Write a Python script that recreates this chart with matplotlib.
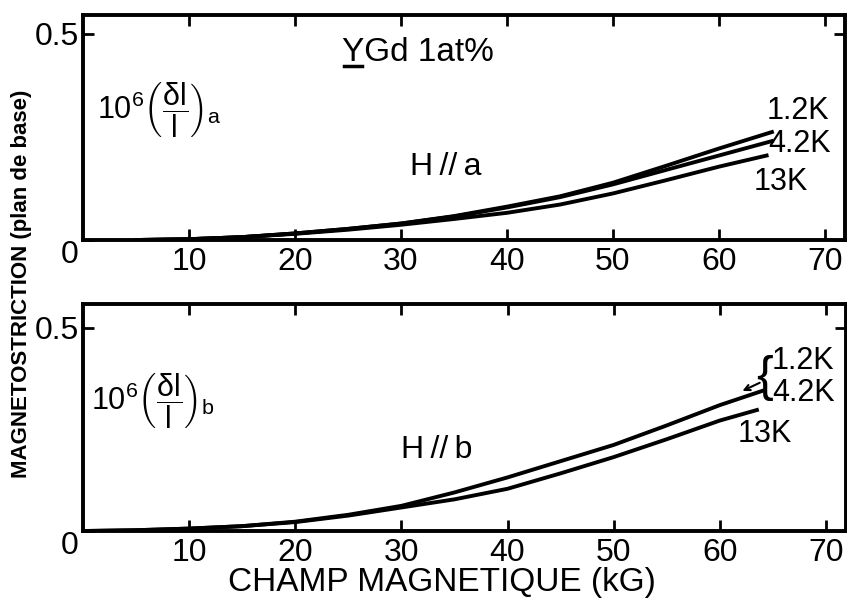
import numpy as np
import matplotlib
matplotlib.use("Agg")
from matplotlib import pyplot as plt

plt.rcParams['font.family'] = ['Liberation Sans', 'DejaVu Sans']
plt.rcParams['mathtext.fontset'] = 'custom'
plt.rcParams['mathtext.rm'] = 'Liberation Sans'
plt.rcParams['mathtext.it'] = 'Liberation Sans'
plt.rcParams['mathtext.default'] = 'regular'

# field (kG) and magnetostriction 10^6 dl/l, basal plane, YGd 1 at%
field_a = [5, 10, 15, 20, 25, 30, 35, 40, 45, 50, 55, 60, 65]
a_1p2K = [0, 0.002, 0.007, 0.016, 0.027, 0.040, 0.058, 0.081, 0.106, 0.139, 0.180, 0.222, 0.262]
a_4p2K = [0, 0.002, 0.007, 0.016, 0.027, 0.040, 0.057, 0.079, 0.104, 0.135, 0.170, 0.205, 0.240]
field_a13 = [5, 10, 15, 20, 25, 30, 35, 40, 45, 50, 55, 60, 64.5]
a_13K = [0, 0.002, 0.007, 0.015, 0.025, 0.037, 0.051, 0.066, 0.086, 0.113, 0.145, 0.178, 0.205]

field_b = [0, 5, 10, 15, 20, 25, 30, 35, 40, 45, 50, 55, 60, 64]
b_low = [0, 0.002, 0.006, 0.012, 0.023, 0.040, 0.062, 0.095, 0.132, 0.172, 0.212, 0.260, 0.310, 0.345]   # 1.2 K and 4.2 K
field_b13 = [0, 5, 10, 15, 20, 25, 30, 35, 40, 45, 50, 55, 60, 63.5]
b_13K = [0, 0.002, 0.006, 0.012, 0.022, 0.038, 0.058, 0.078, 0.104, 0.142, 0.182, 0.226, 0.272, 0.298]

xticks = [10, 20, 30, 40, 50, 60, 70]
yticks = [0, 0.5]

fig = plt.figure(figsize=(8.47, 6.02), dpi=100)
ax1 = fig.add_axes([0.098, 0.6013, 0.8997, 0.3738])
ax2 = fig.add_axes([0.098, 0.1179, 0.9009, 0.3771])

lw = 2.8
ax1.plot(field_a, a_1p2K, color='black', lw=lw)
ax1.plot(field_a, a_4p2K, color='black', lw=lw)
ax1.plot(field_a13, a_13K, color='black', lw=lw)
ax2.plot(field_b, b_low, color='black', lw=lw)
ax2.plot(field_b13, b_13K, color='black', lw=lw)

for ax, ytop in [(ax1, 0.546), (ax2, 0.559)]:
    ax.set_xlim(0, 71.9)
    ax.set_ylim(0, ytop)
    ax.set_xticks(xticks)
    ax.set_yticks(yticks)
    ax.set_yticklabels(['0', '0.5'])
    ax.tick_params(direction='in', length=8, width=2, labelsize=23,
                   top=True, right=True, pad=5)
    ax.tick_params(axis='y', pad=3)
    ax.yaxis.get_majorticklabels()[0].set_va('top')
    for s in ax.spines.values():
        s.set_linewidth(2.8)

# panel a annotations
title = ax1.text(31.6, 0.456, 'YGd 1at%', fontsize=24, ha='center', va='center')
ax1.text(34.2, 0.177, 'H\u2009//\u2009a', fontsize=23, ha='center', va='center')
ax1.text(1.3, 0.315, r'$10^{6}\left(\dfrac{\delta l}{l}\right)_{a}$', fontsize=22,
         ha='left', va='center')
ax1.text(64.5, 0.312, '1.2K', fontsize=22, ha='left', va='center')
ax1.text(64.7, 0.234, '4.2K', fontsize=22, ha='left', va='center')
ax1.text(63.3, 0.141, '13K', fontsize=22, ha='left', va='center')

# panel b annotations
ax2.text(33.3, 0.20, 'H\u2009//\u2009b', fontsize=23, ha='center', va='center')
ax2.text(0.8, 0.32, r'$10^{6}\left(\dfrac{\delta l}{l}\right)_{b}$', fontsize=22,
         ha='left', va='center')
ax2.text(65.0, 0.378, '{', fontsize=36, ha='right', va='center')
ax2.text(64.9, 0.419, '1.2K', fontsize=22, ha='left', va='center')
ax2.text(64.9, 0.340, '4.2K', fontsize=22, ha='left', va='center')
ax2.text(61.7, 0.239, '13K', fontsize=22, ha='left', va='center')
ax2.annotate('', xy=(61.9, 0.342), xytext=(64.0, 0.368),
             arrowprops=dict(arrowstyle='->', color='black', lw=1.5))

fig.text(442 / 847, 1 - 582 / 602, 'CHAMP MAGNETIQUE (kG)', fontsize=24,
         ha='center', va='center')
fig.text(22 / 847, 1 - 284 / 602, 'MAGNETOSTRICTION (plan de base)', fontsize=16,
         fontweight='bold', rotation=90, ha='center', va='center')

# underline the Y of YGd
fig.canvas.draw()
r = fig.canvas.get_renderer()
bb = title.get_window_extent(r)
tmp = ax1.text(0, 0, 'Y', fontsize=24)
ybox = tmp.get_window_extent(r)
tmp.remove()
inv = fig.transFigure.inverted()
(x0, y0), (x1, _) = inv.transform([(bb.x0 + 2, bb.y0 + 2), (bb.x0 + ybox.width - 2, bb.y0 + 2)])
fig.add_artist(plt.Line2D([x0, x1], [y0, y0], color='black', lw=2.5))

fig.savefig('out.png', dpi=100)
